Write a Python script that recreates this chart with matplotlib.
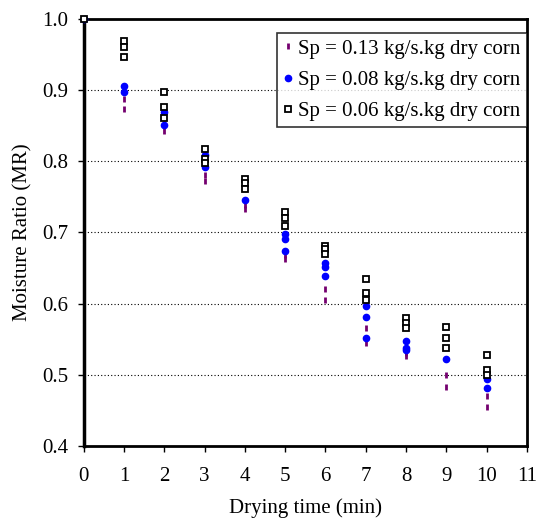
import matplotlib
matplotlib.use("Agg")
import matplotlib.pyplot as plt

plt.rcParams['font.family'] = ['Liberation Serif', 'DejaVu Serif']

# Sp = 0.13 kg/s.kg dry corn
t_013 = [0, 1, 1, 2, 2, 3, 3, 4, 4, 5, 5, 6, 6, 7, 7, 8, 8, 9, 9, 10, 10]
mr_013 = [1.0, 0.888, 0.873, 0.852, 0.843, 0.780, 0.772, 0.738, 0.733, 0.668, 0.662,
          0.620, 0.605, 0.566, 0.545, 0.530, 0.527, 0.500, 0.483, 0.470, 0.455]

# Sp = 0.08 kg/s.kg dry corn
t_008 = [0, 1, 1, 2, 2, 3, 3, 4, 5, 5, 5, 6, 6, 6, 7, 7, 7, 8, 8, 8, 9, 10, 10]
mr_008 = [1.0, 0.906, 0.897, 0.869, 0.851, 0.809, 0.792, 0.746, 0.698, 0.691, 0.674,
          0.657, 0.652, 0.639, 0.597, 0.581, 0.552, 0.548, 0.538, 0.535, 0.522, 0.494, 0.482]

# Sp = 0.06 kg/s.kg dry corn
t_006 = [0, 1, 1, 1, 2, 2, 2, 3, 3, 3, 4, 4, 4, 5, 5, 5, 6, 6, 6, 7, 7, 7, 8, 8, 8, 9, 9, 9, 10, 10, 10]
mr_006 = [1.0, 0.969, 0.961, 0.947, 0.897, 0.876, 0.861, 0.817, 0.803, 0.798, 0.775, 0.769, 0.761,
          0.729, 0.720, 0.709, 0.681, 0.676, 0.670, 0.635, 0.615, 0.605, 0.580, 0.573, 0.566,
          0.567, 0.551, 0.537, 0.528, 0.507, 0.499]

labels = ["Sp = 0.13 kg/s.kg dry corn", "Sp = 0.08 kg/s.kg dry corn", "Sp = 0.06 kg/s.kg dry corn"]
x_ticks = list(range(0, 12))
y_ticks = [0.4, 0.5, 0.6, 0.7, 0.8, 0.9, 1.0]

fig = plt.figure(figsize=(5.37, 5.24), dpi=100)
ax = fig.add_axes([0.156, 0.149, 0.825, 0.815])

for yv in [0.5, 0.6, 0.7, 0.8, 0.9]:
    ax.axhline(yv, color='black', linestyle=(0, (1, 2)), linewidth=0.8, zorder=0)

ax.plot(t_013, mr_013, linestyle='none', marker='|', markersize=5, markeredgewidth=2,
        color='#74006f', label=labels[0], clip_on=False, zorder=3)
ax.plot(t_008, mr_008, linestyle='none', marker='o', markersize=4.5,
        markerfacecolor='#0000ff', markeredgecolor='#0000ff', label=labels[1], clip_on=False, zorder=4)
ax.plot(t_006, mr_006, linestyle='none', marker='s', markersize=5, markeredgewidth=1.3,
        markerfacecolor='white', markeredgecolor='black', label=labels[2], clip_on=False, zorder=5)

ax.set_xlim(0, 11)
ax.set_ylim(0.4, 1.0)
ax.set_xticks(x_ticks)
ax.set_yticks(y_ticks)
ax.set_yticklabels([f"{v:.1f}" for v in y_ticks])
ax.tick_params(axis='both', direction='out', length=4, width=1, labelsize=15, colors='black')
ax.tick_params(axis='x', pad=11)
ax.tick_params(axis='y', pad=7)
for s in ax.spines.values():
    s.set_linewidth(2)
ax.spines['left'].set_linewidth(2.5)
ax.set_xlabel("Drying time (min)", fontsize=15, labelpad=9)
ax.set_ylabel("Moisture Ratio (MR)", fontsize=15, labelpad=7)

leg = ax.legend(loc='upper right', bbox_to_anchor=(1.0, 0.967), fontsize=15, frameon=True,
                fancybox=False, edgecolor='black', handlelength=0.4, handletextpad=0.3,
                borderpad=0.3, labelspacing=0.55, borderaxespad=0.0)
leg.get_frame().set_linewidth(1.2)

fig.savefig("out.png", dpi=100)
